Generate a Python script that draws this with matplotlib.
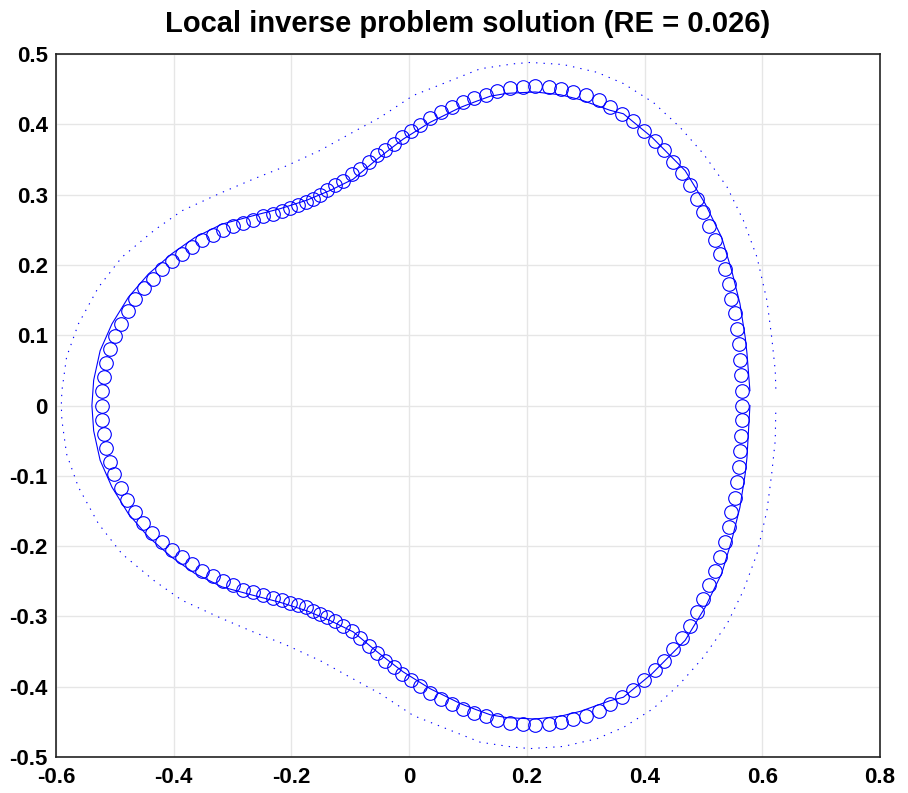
import matplotlib
matplotlib.use('Agg')
import matplotlib.pyplot as plt

# reconstructed boundary points (circles), counter-clockwise from the right
circ_x = [0.566, 0.566, 0.564, 0.562, 0.560, 0.557, 0.553, 0.547, 0.543, 0.536,
          0.528, 0.520, 0.510, 0.500, 0.489, 0.477, 0.463, 0.449, 0.433, 0.417,
          0.399, 0.381, 0.361, 0.342, 0.322, 0.300, 0.279, 0.258, 0.237, 0.214,
          0.193, 0.172, 0.150, 0.130, 0.110, 0.091, 0.072, 0.054, 0.036, 0.019,
          0.003, -0.012, -0.026, -0.041, -0.055, -0.069, -0.083, -0.097, -0.112, -0.126,
          -0.139, -0.151, -0.164, -0.176, -0.189, -0.202, -0.216, -0.232, -0.248, -0.265,
          -0.282, -0.299, -0.316, -0.334, -0.352, -0.369, -0.386, -0.403, -0.420, -0.436,
          -0.451, -0.466, -0.478, -0.490, -0.500, -0.508, -0.515, -0.519, -0.522, -0.522,
          -0.522, -0.519, -0.515, -0.508, -0.501, -0.490, -0.479, -0.466, -0.452, -0.437,
          -0.420, -0.403, -0.386, -0.369, -0.352, -0.334, -0.317,
          -0.299, -0.282, -0.265, -0.248, -0.232, -0.216, -0.202, -0.189, -0.176, -0.164,
          -0.151, -0.139, -0.126, -0.112, -0.097, -0.083, -0.069, -0.055,
          -0.041, -0.026, -0.012, 0.003, 0.019, 0.036, 0.054, 0.072, 0.091, 0.110,
          0.130, 0.150, 0.172, 0.193, 0.214, 0.237, 0.258, 0.279, 0.300,
          0.322, 0.342, 0.361, 0.381, 0.399, 0.417, 0.433, 0.449, 0.463, 0.477,
          0.489, 0.500, 0.510, 0.520, 0.528, 0.536, 0.543, 0.547, 0.553, 0.557,
          0.560, 0.562, 0.564, 0.566]
circ_y = [0.000, 0.021, 0.044, 0.065, 0.087, 0.109, 0.131, 0.152, 0.173, 0.194,
          0.216, 0.236, 0.256, 0.275, 0.294, 0.313, 0.331, 0.347, 0.363, 0.376,
          0.390, 0.404, 0.415, 0.425, 0.435, 0.441, 0.446, 0.450, 0.453, 0.454,
          0.453, 0.451, 0.447, 0.442, 0.437, 0.432, 0.425, 0.417, 0.409, 0.399,
          0.390, 0.382, 0.372, 0.364, 0.356, 0.346, 0.337, 0.330, 0.320, 0.313,
          0.306, 0.299, 0.294, 0.289, 0.285, 0.281, 0.276, 0.273, 0.269, 0.264,
          0.260, 0.255, 0.250, 0.243, 0.236, 0.225, 0.216, 0.205, 0.194, 0.180,
          0.167, 0.151, 0.134, 0.116, 0.099, 0.081, 0.061, 0.041, 0.020, 0.000,
          -0.020, -0.040, -0.061, -0.081, -0.098, -0.118, -0.134, -0.151, -0.167, -0.182,
          -0.194, -0.205, -0.216, -0.225, -0.235, -0.242, -0.249,
          -0.256, -0.262, -0.266, -0.270, -0.274, -0.277, -0.281, -0.284, -0.287, -0.292,
          -0.296, -0.301, -0.306, -0.313, -0.321, -0.331, -0.342, -0.352,
          -0.364, -0.372, -0.382, -0.390, -0.399, -0.409, -0.417, -0.425, -0.432, -0.437,
          -0.442, -0.447, -0.451, -0.453, -0.454, -0.453, -0.450, -0.446, -0.441,
          -0.435, -0.425, -0.415, -0.404, -0.390, -0.376, -0.363, -0.347, -0.331, -0.313,
          -0.294, -0.275, -0.256, -0.236, -0.216, -0.194, -0.173, -0.152, -0.131, -0.109,
          -0.087, -0.065, -0.044, -0.021]

# exact boundary (solid line)
true_x = [0.579, 0.574, 0.571, 0.562, 0.548, 0.531, 0.503, 0.469, 0.412, 0.364,
          0.341, 0.291, 0.257, 0.214, 0.166, 0.138, 0.115, 0.087, 0.058, 0.036,
          0.013, -0.010, -0.032, -0.055, -0.095, -0.134, -0.174, -0.219, -0.265, -0.318,
          -0.364, -0.403, -0.443, -0.477, -0.505, -0.525, -0.536, -0.539,
          -0.536, -0.525, -0.505, -0.477, -0.443, -0.403, -0.364, -0.318, -0.265, -0.219,
          -0.174, -0.134, -0.095, -0.055, -0.032, -0.010, 0.013, 0.036, 0.058, 0.087,
          0.115, 0.138, 0.166, 0.214, 0.257, 0.291, 0.341, 0.364, 0.412, 0.469,
          0.503, 0.531, 0.548, 0.562, 0.571, 0.574, 0.579]
true_y = [0.021, 0.074, 0.097, 0.145, 0.192, 0.239, 0.287, 0.334, 0.382, 0.415,
          0.420, 0.435, 0.442, 0.446, 0.444, 0.440, 0.433, 0.424, 0.412, 0.403,
          0.391, 0.379, 0.365, 0.350, 0.322, 0.306, 0.292, 0.280, 0.270, 0.258,
          0.239, 0.216, 0.187, 0.154, 0.116, 0.078, 0.036, 0.000,
          -0.036, -0.078, -0.116, -0.154, -0.187, -0.216, -0.239, -0.258, -0.270, -0.280,
          -0.292, -0.306, -0.322, -0.350, -0.365, -0.379, -0.391, -0.403, -0.412, -0.424,
          -0.433, -0.440, -0.444, -0.446, -0.442, -0.435, -0.420, -0.415, -0.382, -0.334,
          -0.287, -0.239, -0.192, -0.145, -0.097, -0.074, 0.000]

# outer measurement curve (dotted)
meas_x = [0.623, 0.622, 0.616, 0.608, 0.591, 0.568, 0.540, 0.500, 0.460, 0.415,
          0.364, 0.319, 0.262, 0.206, 0.177, 0.121, 0.064, 0.007, -0.049, -0.095,
          -0.151, -0.208, -0.265, -0.321, -0.386, -0.432, -0.488, -0.528, -0.562, -0.582,
          -0.590, -0.591,
          -0.590, -0.582, -0.562, -0.528, -0.488, -0.432, -0.386, -0.321, -0.265, -0.208,
          -0.151, -0.095, -0.049, 0.007, 0.064, 0.121, 0.177, 0.206, 0.262, 0.319,
          0.364, 0.415, 0.460, 0.500, 0.540, 0.568, 0.591, 0.608, 0.616, 0.622,
          0.623]
meas_y = [0.024, 0.050, 0.097, 0.149, 0.211, 0.263, 0.311, 0.358, 0.396, 0.431,
          0.458, 0.474, 0.485, 0.488, 0.486, 0.479, 0.460, 0.441, 0.410, 0.389,
          0.363, 0.341, 0.322, 0.302, 0.277, 0.250, 0.211, 0.168, 0.116, 0.069,
          0.021, 0.000,
          -0.021, -0.069, -0.116, -0.168, -0.211, -0.250, -0.277, -0.302, -0.322, -0.341,
          -0.363, -0.389, -0.410, -0.441, -0.460, -0.479, -0.486, -0.488, -0.485, -0.474,
          -0.458, -0.431, -0.396, -0.358, -0.311, -0.263, -0.211, -0.149, -0.097, -0.050,
          -0.004]

x_ticks = [-0.6, -0.4, -0.2, 0, 0.2, 0.4, 0.6, 0.8]
x_labels = ['-0.6', '-0.4', '-0.2', '0', '0.2', '0.4', '0.6', '0.8']
y_ticks = [-0.5, -0.4, -0.3, -0.2, -0.1, 0, 0.1, 0.2, 0.3, 0.4, 0.5]
y_labels = ['-0.5', '-0.4', '-0.3', '-0.2', '-0.1', '0', '0.1', '0.2', '0.3', '0.4', '0.5']

plt.rcParams['font.family'] = ['Liberation Sans', 'DejaVu Sans']

fig = plt.figure(figsize=(9.08, 7.93), dpi=100)
ax = fig.add_axes([56 / 908, 1 - 757 / 793, 824 / 908, 703 / 793])

ax.plot(meas_x, meas_y, color='#0000ff', lw=0.8, linestyle=(0, (1.2, 5.5)))
ax.plot(true_x, true_y, color='#0000ff', lw=0.8)
ax.plot(circ_x, circ_y, 'o', mfc='none', mec='#0000ff', ms=9.8, mew=0.8)

ax.set_xlim(-0.6, 0.8)
ax.set_ylim(-0.5, 0.5)
ax.set_xticks(x_ticks)
ax.set_xticklabels(x_labels)
ax.set_yticks(y_ticks)
ax.set_yticklabels(y_labels)
ax.tick_params(length=0, labelsize=16)
ax.tick_params(axis='x', pad=7)
ax.tick_params(axis='y', pad=6)
for lab in ax.get_xticklabels() + ax.get_yticklabels():
    lab.set_fontweight('bold')
ax.grid(True, color='#e6e6e6', lw=1)
ax.set_axisbelow(True)
for sp in ax.spines.values():
    sp.set_color('#222222')
    sp.set_linewidth(1.2)

ax.set_title('Local inverse problem solution (RE = 0.026)', fontsize=21,
             fontweight='bold', pad=16)

fig.savefig('out.png', dpi=100)
